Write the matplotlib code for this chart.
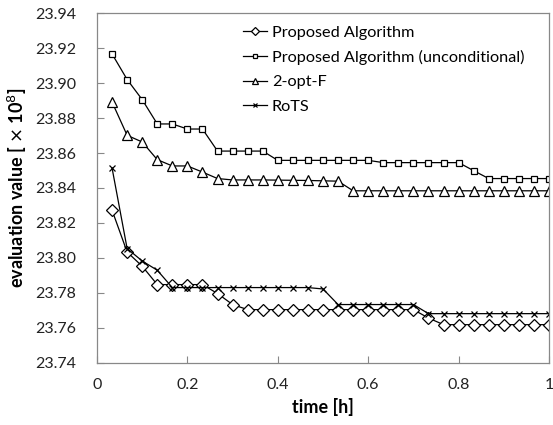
import numpy as np
import matplotlib
matplotlib.use("Agg")
import matplotlib.pyplot as plt

plt.rcParams['font.family'] = ['Lato', 'DejaVu Sans']

# time steps [h]
zeit = [k / 30 for k in range(1, 31)]

# evaluation values [x 10^8]
proposed = [23.8273, 23.8034, 23.7953, 23.7848, 23.7848, 23.7848, 23.7848, 23.7797, 23.7734, 23.7705,
            23.7705, 23.7705, 23.7705, 23.7705, 23.7705, 23.7705, 23.7705, 23.7705, 23.7705, 23.7705,
            23.7705, 23.7657, 23.7619, 23.7619, 23.7619, 23.7619, 23.7619, 23.7619, 23.7619, 23.7619]
unconditional = [23.9166, 23.9020, 23.8905, 23.8766, 23.8766, 23.8737, 23.8737, 23.8611, 23.8611, 23.8611,
                 23.8611, 23.8558, 23.8558, 23.8558, 23.8558, 23.8558, 23.8558, 23.8558, 23.8545, 23.8545,
                 23.8545, 23.8545, 23.8545, 23.8545, 23.8499, 23.8454, 23.8454, 23.8454, 23.8454, 23.8454]
opt2f = [23.8891, 23.8701, 23.8663, 23.8562, 23.8526, 23.8526, 23.8491, 23.8454, 23.8446, 23.8446,
         23.8446, 23.8445, 23.8444, 23.8443, 23.8441, 23.8439, 23.8384, 23.8384, 23.8384, 23.8384,
         23.8384, 23.8384, 23.8384, 23.8384, 23.8384, 23.8384, 23.8384, 23.8384, 23.8384, 23.8384]
rots = [23.8514, 23.8054, 23.7983, 23.7930, 23.7831, 23.7831, 23.7831, 23.7831, 23.7831, 23.7831,
        23.7831, 23.7831, 23.7831, 23.7831, 23.7823, 23.7734, 23.7734, 23.7734, 23.7734, 23.7734,
        23.7734, 23.7682, 23.7682, 23.7682, 23.7682, 23.7682, 23.7682, 23.7682, 23.7682, 23.7682]

labels = ['Proposed Algorithm', 'Proposed Algorithm (unconditional)', '2-opt-F', 'RoTS']

fig = plt.figure(figsize=(5.53, 4.25), dpi=100)
ax = fig.add_axes([0.1754, 0.1459, 0.8174, 0.8235])

ax.plot(zeit, proposed, color='black', lw=0.9, marker='D', ms=6.5, mfc='white', mec='black', mew=0.9, label=labels[0])
ax.plot(zeit, unconditional, color='black', lw=0.9, marker='s', ms=4.5, mfc='white', mec='black', mew=0.9, label=labels[1])
ax.plot(zeit, opt2f, color='black', lw=0.9, marker='^', ms=7, mfc='white', mec='black', mew=0.9, label=labels[2])
ax.plot(zeit, rots, color='black', lw=0.9, marker='x', ms=4.5, mec='black', mew=0.9, label=labels[3])

ax.set_xlim(0, 1)
ax.set_ylim(23.74, 23.94)
ax.set_xticks([0, 0.2, 0.4, 0.6, 0.8, 1])
ax.set_xticklabels(['0', '0.2', '0.4', '0.6', '0.8', '1'])
ax.set_yticks(np.arange(23.74, 23.9401, 0.02))
ax.set_yticklabels(['%.2f' % v for v in np.arange(23.74, 23.9401, 0.02)])
ax.tick_params(direction='in', length=5, width=0.8, color='#888888', labelsize=11.5, labelcolor='#222222')
ax.tick_params(axis='x', pad=11)
ax.tick_params(axis='y', pad=15)

for s in ax.spines.values():
    s.set_color('#888888')
    s.set_linewidth(0.9)

ax.set_xlabel('time [h]', fontsize=13, fontweight='bold', labelpad=4)
ax.set_ylabel(r'evaluation value [ $\times$ 10$^{8}$]', fontsize=13, fontweight='bold', labelpad=4)

ax.legend(loc='upper left', bbox_to_anchor=(0.297, 0.997), frameon=False, fontsize=11.7,
          handlelength=1.5, handletextpad=0.3, labelspacing=0.62, borderaxespad=0.3, markerscale=0.7)

fig.savefig('out.png', dpi=100)
